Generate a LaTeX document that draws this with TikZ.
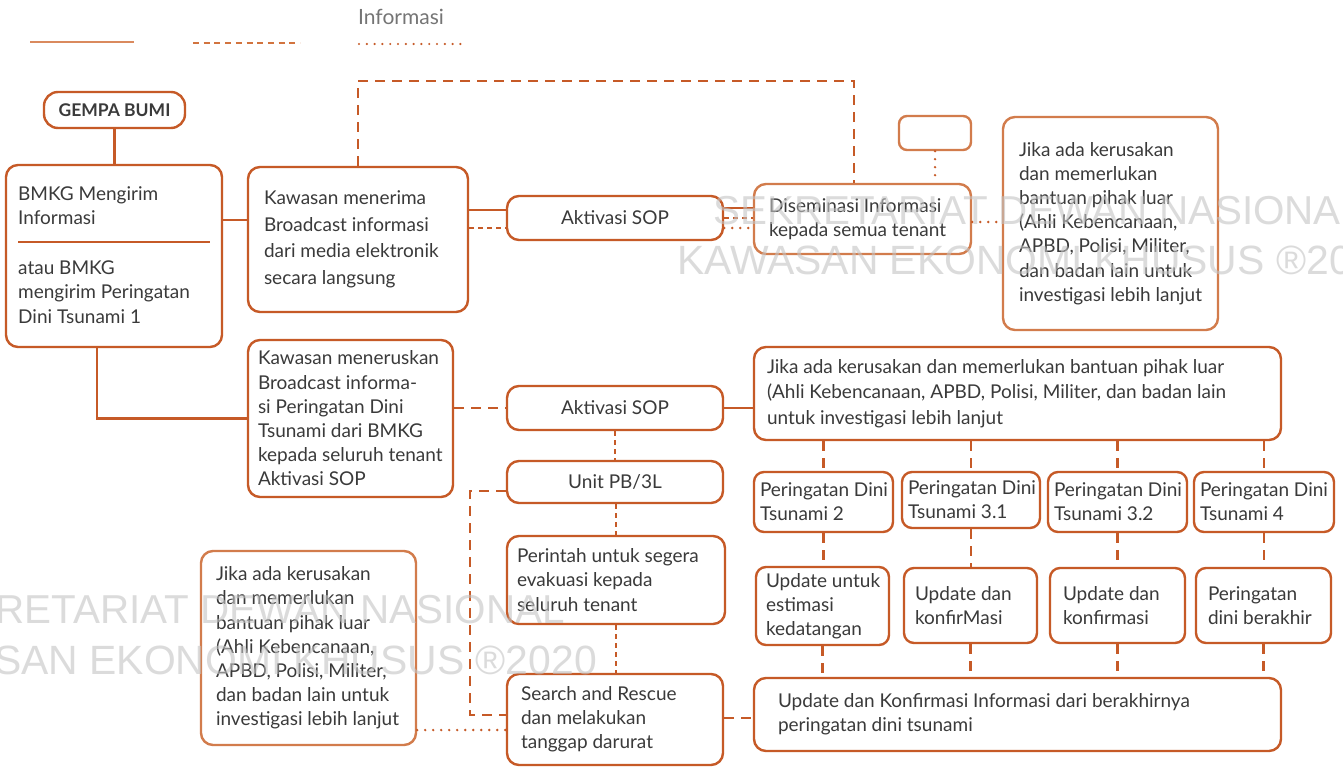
\documentclass[tikz,border=0pt]{standalone}
\usepackage{fontspec}
\setmainfont{Lato}
\newfontfamily\wmfont{Liberation Sans}
\usetikzlibrary{calc}
\definecolor{org}{HTML}{C65A27}
\definecolor{orgl}{HTML}{D27C4C}
\definecolor{txt}{HTML}{3A3A3A}
\definecolor{wm}{HTML}{C4C4C4}
\definecolor{leg1}{HTML}{DA8A5E}
\definecolor{leg2}{HTML}{D2743F}
\tikzset{
  box/.style={draw=org, line width=2.4pt, rounded corners=12pt, fill=white, text=txt,
    font=\fontsize{19}{24.2}\selectfont, inner sep=0pt},
  lbox/.style={box, draw=orgl},
  tx/.style={align=left, text=txt, inner sep=0pt, anchor=west, font=\fontsize{19}{24.2}\selectfont},
  solidc/.style={draw=org, line width=2.5pt},
  dashc/.style={draw=org, line width=2.5pt, dash pattern=on 10pt off 7pt},
  thindash/.style={draw=org, line width=1.3pt, dash pattern=on 5pt off 4pt},
  dotc/.style={draw=org, line width=2.6pt, line cap=round, dash pattern=on 0pt off 8pt},
  wmtext/.style={text=wm, opacity=0.6, inner sep=0pt, font=\wmfont\fontsize{40}{40}\selectfont},
}
\begin{document}
\begin{tikzpicture}[x=1pt,y=-1pt]
\useasboundingbox (0,0) rectangle (1343,767);
\clip (0,0) rectangle (1343,767);
\fill[white] (0,0) rectangle (1343,767);

% legend
\node[text=txt!70, font=\fontsize{21}{24}\selectfont, inner sep=0pt, anchor=west] (legtxt) at (358,17) {Informasi};
\coordinate (l1a) at (30,42); \coordinate (l1b) at (134,42);
\coordinate (l2a) at (193,43); \coordinate (l2b) at (300,43);
\coordinate (l3a) at (359,44); \coordinate (l3b) at (468,44);
\draw[draw=leg1, line width=2pt] (l1a) -- (l1b);
\draw[draw=leg2, line width=2pt, dash pattern=on 6pt off 4.7pt] (l2a) -- (l2b);
\draw[draw=org, line width=2.4pt, line cap=round, dash pattern=on 0pt off 7.8pt] (l3a) -- (l3b);

% boxes
\node[box, font=\bfseries\fontsize{17.5}{20}\selectfont, minimum width=141pt, minimum height=36pt, rounded corners=14pt] (gempa) at (114.5,110) {GEMPA BUMI};
\node[box, minimum width=216pt, minimum height=182pt] (bmkg) at (114,256) {};
\node[tx] (bmkgt1) at (18,206) {BMKG Mengirim\\Informasi};
\node[tx] (bmkgt2) at (18,292) {atau BMKG\\mengirim Peringatan\\Dini Tsunami 1};
\coordinate (sepa) at (18,242); \coordinate (sepb) at (210,242);
\draw[draw=org, line width=1.2pt] (sepa) -- (sepb);

\node[box, minimum width=220pt, minimum height=145pt] (k1) at (358,239.5) {};
\node[tx, font=\fontsize{19}{26.6}\selectfont] (k1t) at ([xshift=17pt]k1.west) {Kawasan menerima\\Broadcast informasi\\dari media elektronik\\secara langsung};
\node[box, minimum width=216pt, minimum height=44pt] (akt1) at (615,218) {Aktivasi SOP};
\node[lbox, minimum width=217pt, minimum height=70pt] (dis) at (862.5,219) {};
\node[tx] (dist) at ([xshift=16pt]dis.west) {Diseminasi Informasi\\kepada semua tenant};
\node[lbox, rounded corners=8pt, minimum width=72pt, minimum height=34pt] (small) at (935,133) {};
\node[lbox, minimum width=215pt, minimum height=213pt] (jr) at (1110.5,223.5) {};
\node[tx] (jrt) at ([xshift=17pt]jr.west) {Jika ada kerusakan\\dan memerlukan\\bantuan pihak luar\\(Ahli Kebencanaan,\\APBD, Polisi, Militer,\\dan badan lain untuk\\investigasi lebih lanjut};

\node[box, minimum width=205pt, minimum height=157pt] (km) at (350.5,418.5) {};
\node[tx] (kmt) at ([xshift=11pt]km.west) {Kawasan meneruskan\\Broadcast informa-\\si Peringatan Dini\\Tsunami dari BMKG\\kepada seluruh tenant\\Aktivasi SOP};
\node[box, minimum width=216pt, minimum height=44pt] (akt2) at (615,408) {Aktivasi SOP};
\node[box, minimum width=527pt, minimum height=93pt] (jw) at (1017.5,393.5) {};
\node[tx, font=\fontsize{19}{25.5}\selectfont] (jwt) at ([xshift=14pt]jw.west) {Jika ada kerusakan dan memerlukan bantuan pihak luar\\(Ahli Kebencanaan, APBD, Polisi, Militer, dan badan lain\\untuk investigasi lebih lanjut};

\node[box, rounded corners=10pt, minimum width=139pt, minimum height=60pt] (pd2) at (823.5,502) {};
\node[tx] (pd2t) at ([xshift=7pt]pd2.west) {Peringatan Dini\\Tsunami 2};
\node[box, rounded corners=10pt, minimum width=138pt, minimum height=56pt] (pd31) at (971,500) {};
\node[tx] (pd31t) at ([xshift=7pt]pd31.west) {Peringatan Dini\\Tsunami 3.1};
\node[box, rounded corners=10pt, minimum width=139pt, minimum height=60pt] (pd32) at (1117.5,502) {};
\node[tx] (pd32t) at ([xshift=7pt]pd32.west) {Peringatan Dini\\Tsunami 3.2};
\node[box, rounded corners=10pt, minimum width=140pt, minimum height=60pt] (pd4) at (1264,502) {};
\node[tx] (pd4t) at ([xshift=7pt]pd4.west) {Peringatan Dini\\Tsunami 4};

\node[box, rounded corners=10pt, minimum width=133pt, minimum height=78pt] (u1) at (822.5,606) {};
\node[tx] (u1t) at ([xshift=11pt]u1.west) {Update untuk\\estimasi\\kedatangan};
\node[box, rounded corners=10pt, minimum width=133pt, minimum height=75pt] (u2) at (970.5,605.5) {};
\node[tx] (u2t) at ([xshift=12pt]u2.west) {Update dan\\konfirMasi};
\node[box, rounded corners=10pt, minimum width=135pt, minimum height=75pt] (u3) at (1117.5,605.5) {};
\node[tx] (u3t) at ([xshift=14pt]u3.west) {Update dan\\konfirmasi};
\node[box, rounded corners=10pt, minimum width=135pt, minimum height=75pt] (u4) at (1263.5,605.5) {};
\node[tx] (u4t) at ([xshift=13pt]u4.west) {Peringatan\\dini berakhir};

\node[box, minimum width=527pt, minimum height=73pt] (fin) at (1017.5,714.5) {};
\node[tx] (fint) at ([xshift=25pt]fin.west) {Update dan Konfirmasi Informasi dari berakhirnya\\peringatan dini tsunami};

\node[box, minimum width=216pt, minimum height=42pt] (unit) at (615,482) {Unit PB/3L};
\node[box, minimum width=218pt, minimum height=88pt] (per) at (616,580) {};
\node[tx] (pert) at ([xshift=11pt]per.west) {Perintah untuk segera\\evakuasi kepada\\seluruh tenant};
\node[box, minimum width=216pt, minimum height=91pt] (sar) at (615,719.5) {};
\node[tx] (sart) at ([xshift=15pt]sar.west) {Search and Rescue\\dan melakukan\\tanggap darurat};
\node[lbox, minimum width=215pt, minimum height=194pt] (jbl) at (308.5,648) {};
\node[tx] (jblt) at ([xshift=16pt]jbl.west) {Jika ada kerusakan\\dan memerlukan\\bantuan pihak luar\\(Ahli Kebencanaan,\\APBD, Polisi, Militer,\\dan badan lain untuk\\investigasi lebih lanjut};

% connectors
\draw[solidc] (gempa.south) -- (gempa.south |- bmkg.north);
\draw[solidc] (bmkg.east |- 0,220) -- (k1.west |- 0,220);
\draw[dashc] (k1.north) |- (854,81) -- (dis.north -| 854,0);
\draw[solidc] (k1.east |- 0,210) -- (akt1.west |- 0,210);
\draw[thindash] (k1.east |- 0,228) -- (akt1.west |- 0,228);
\draw[solidc] (akt1.east |- 0,208) -- (dis.west |- 0,208);
\draw[thindash] (akt1.east |- 0,218) -- (dis.west |- 0,218);
\draw[dotc] (akt1.east |- 0,228) -- (dis.west |- 0,228);
\draw[dotc] (small.south) -- (small.south |- dis.north);
\draw[dotc] (dis.east |- 0,222) -- (jr.west |- 0,222);

\draw[solidc] (bmkg.south -| 97,0) |- (km.west);
\draw[dashc] (km.east |- akt2.west) -- (akt2.west);
\draw[solidc] (akt2.east) -- (akt2.east -| jw.west);
\foreach \p/\u in {pd2/u1, pd31/u2, pd32/u3, pd4/u4}{
  \draw[dashc] (\p.north |- jw.south) -- (\p.north);
  \draw[dashc] (\p.south) -- (\p.south |- \u.north);
  \draw[dashc] (\u.south) -- (\u.south |- fin.north);
}
\draw[dashc] (sar.east |- 0,718) -- (fin.west |- 0,718);
\draw[thindash] (akt2.south) -- (unit.north);
\draw[thindash] (unit.south -| 616,0) -- (per.north -| 616,0);
\draw[thindash] (per.south) -- (per.south |- sar.north);
\draw[dashc] (unit.west |- 0,491) -| (470,715) -- (sar.west |- 0,715);
\draw[dotc] (jbl.east |- 0,730) -- (sar.west |- 0,730);

% watermark
\node[wmtext, anchor=west] (wm1a) at (713,211) {\resizebox{650pt}{!}{SEKRETARIAT DEWAN NASIONAL}};
\node[wmtext, anchor=west] (wm1b) at (677,260) {\resizebox{720pt}{!}{KAWASAN EKONOMI KHUSUS ®2020}};
\node[wmtext, anchor=east] (wm2a) at (565,610) {\resizebox{650pt}{!}{SEKRETARIAT DEWAN NASIONAL}};
\node[wmtext, anchor=east] (wm2b) at (597,660) {\resizebox{720pt}{!}{KAWASAN EKONOMI KHUSUS ®2020}};
\end{tikzpicture}
\end{document}
